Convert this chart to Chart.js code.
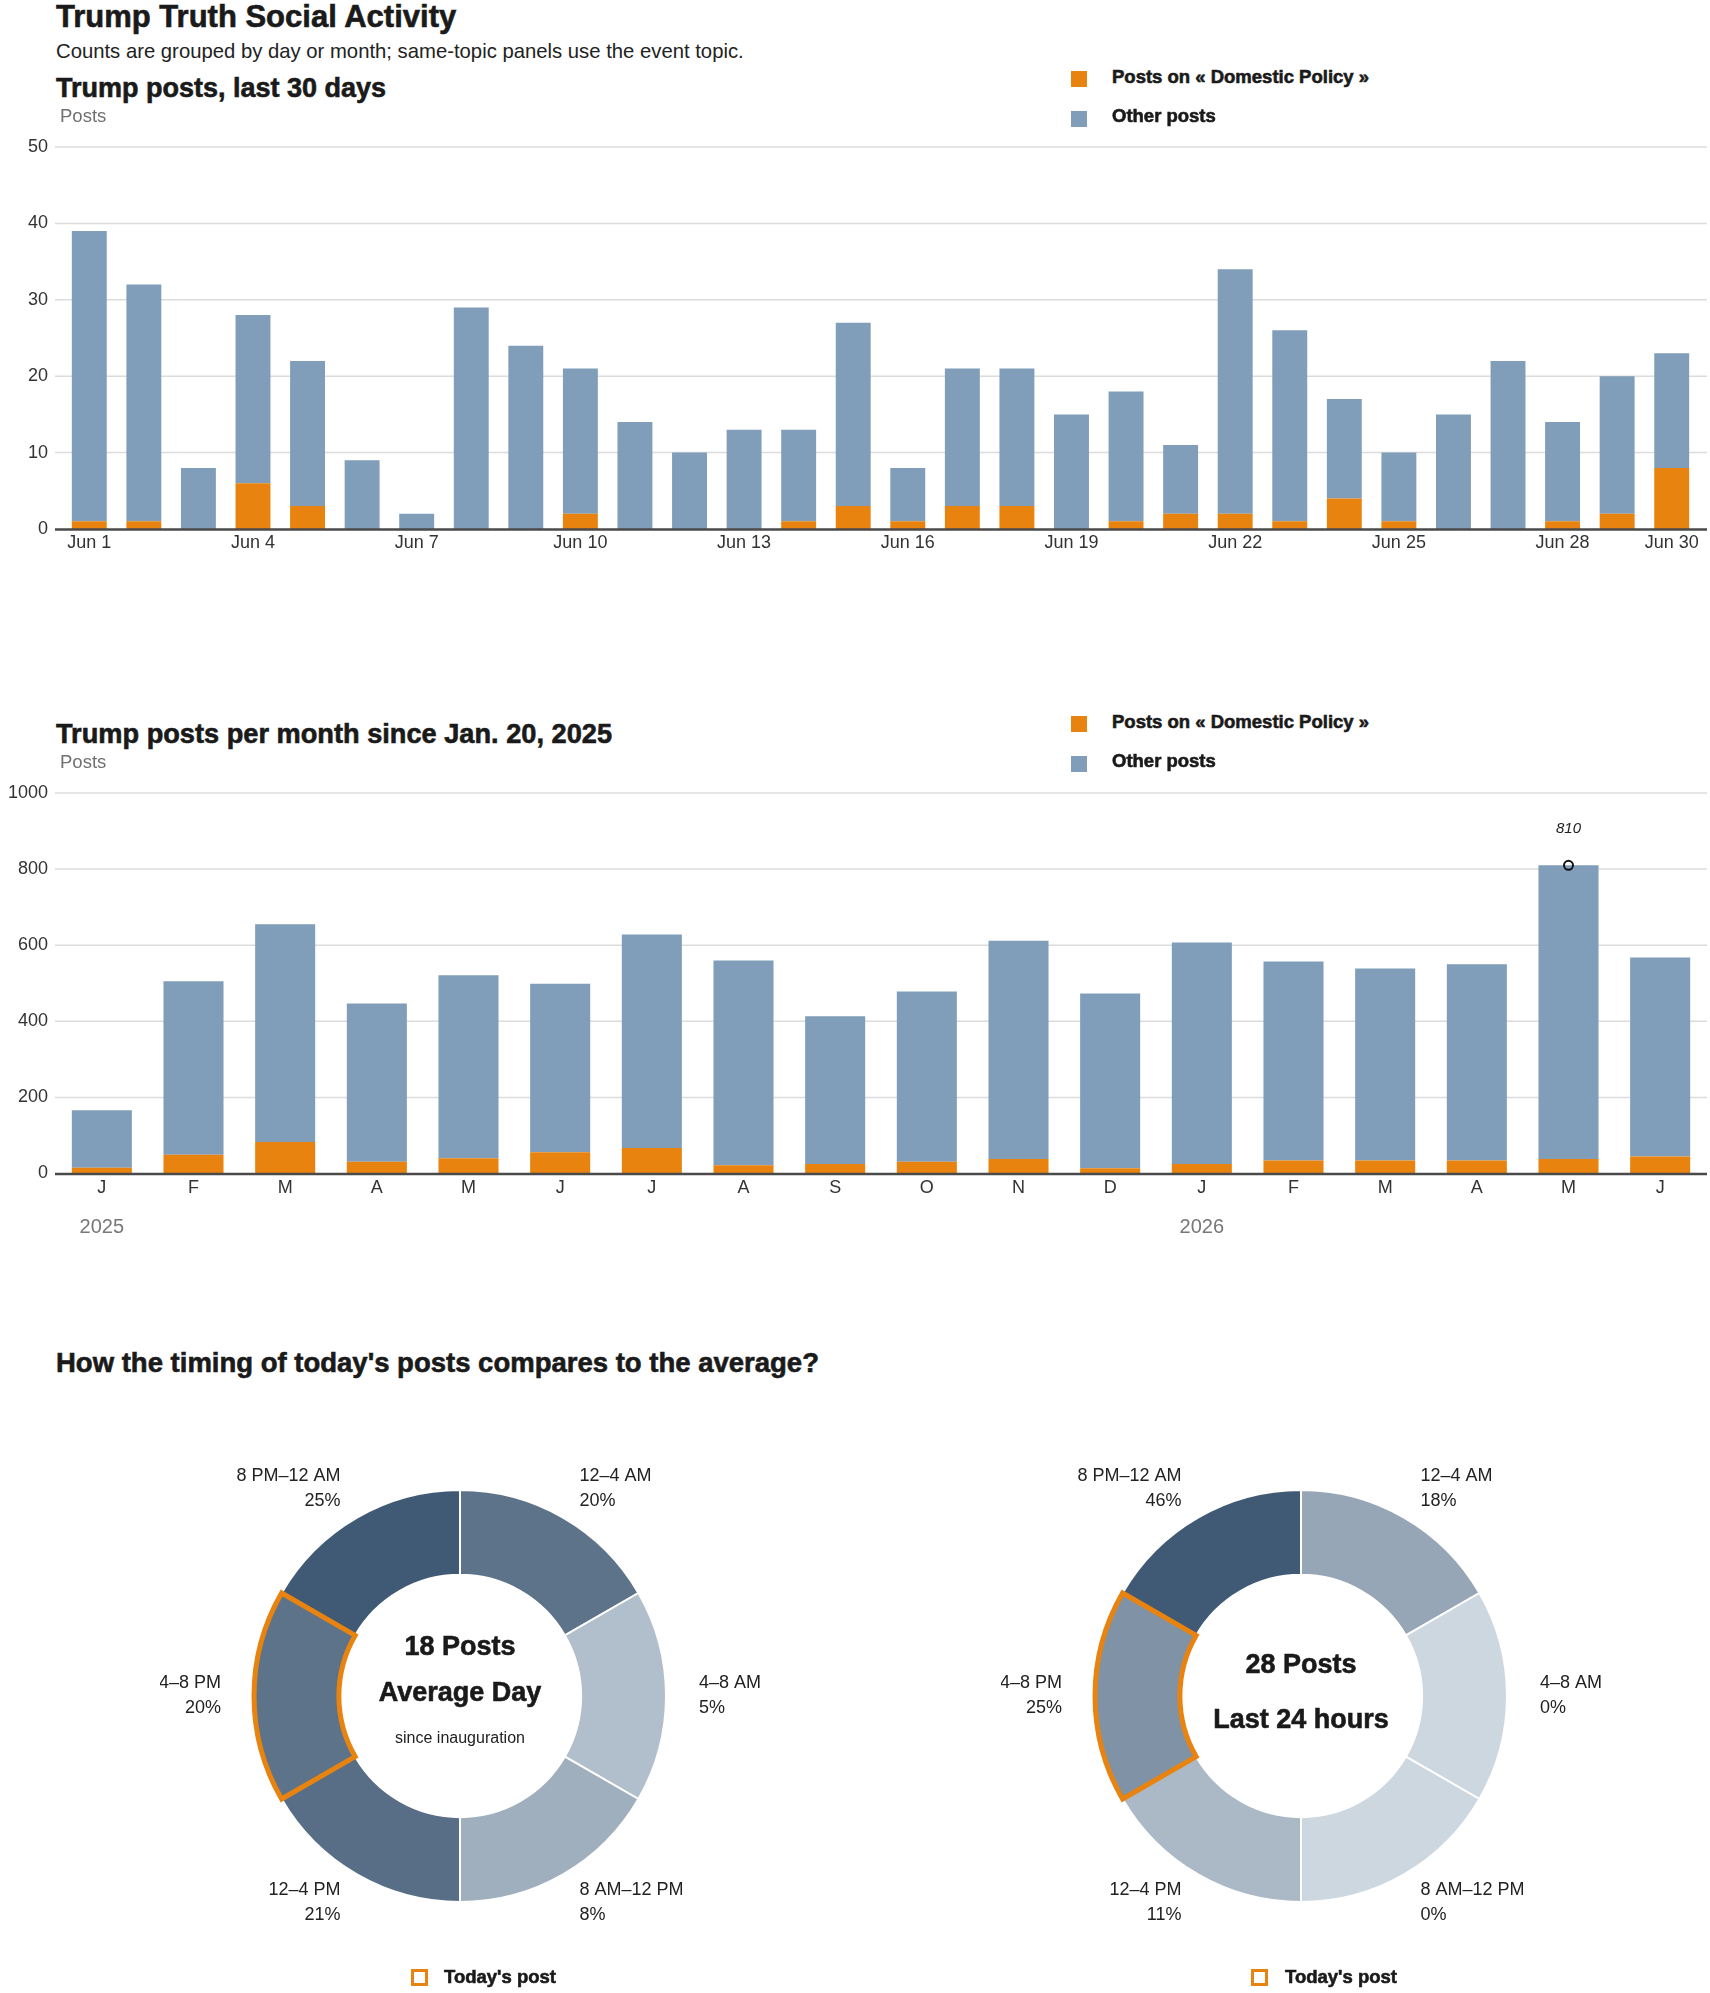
<!DOCTYPE html>
<html>
<head>
<meta charset="utf-8">
<script src="https://cdn.jsdelivr.net/npm/chart.js@4.4.1/dist/chart.umd.min.js"></script>
<style>
  body { margin: 0; background: #fff; }
  #page { position: relative; width: 1710px; height: 1993px; overflow: hidden;
          font-family: 'Liberation Sans', Arial, sans-serif; color: #222; }
  .t { position: absolute; white-space: nowrap; z-index: 2; }
  .heavy { font-weight: 700; color: #1a1a1a; -webkit-text-stroke: 0.6px #1a1a1a; }
  .sw { position: absolute; width: 16px; height: 16px; z-index: 2; }
  .ring { position: absolute; width: 11px; height: 11px; border: 3px solid #e8830f; z-index: 2; }
  canvas { position: absolute; z-index: 1; }
</style>
</head>
<body>
<div id="page">
  <div class="t heavy" style="left:56px; top:0px; line-height:34px; font-size:31px;">Trump Truth Social Activity</div>
  <div class="t" style="left:56px; top:38px; line-height:26px; font-size:20.3px;">Counts are grouped by day or month; same-topic panels use the event topic.</div>

  <div class="t heavy" style="left:56px; top:73px; line-height:30px; font-size:27px;">Trump posts, last 30 days</div>
  <div class="t" style="left:60px; top:105px; line-height:22px; font-size:18.5px; color:#707070;">Posts</div>
  <div class="sw" style="left:1071px; top:71px; background:#e8830f;"></div>
  <div class="t heavy" style="left:1112px; top:66px; line-height:22px; font-size:18.5px;">Posts on « Domestic Policy »</div>
  <div class="sw" style="left:1071px; top:111px; background:#809db9;"></div>
  <div class="t heavy" style="left:1112px; top:105px; line-height:22px; font-size:18.5px;">Other posts</div>
  <canvas id="daily" width="1710" height="460" style="left:0; top:110px;"></canvas>

  <div class="t heavy" style="left:56px; top:719px; line-height:30px; font-size:27.2px;">Trump posts per month since Jan. 20, 2025</div>
  <div class="t" style="left:60px; top:751px; line-height:22px; font-size:18.5px; color:#707070;">Posts</div>
  <div class="sw" style="left:1071px; top:716px; background:#e8830f;"></div>
  <div class="t heavy" style="left:1112px; top:711px; line-height:22px; font-size:18.5px;">Posts on « Domestic Policy »</div>
  <div class="sw" style="left:1071px; top:756px; background:#809db9;"></div>
  <div class="t heavy" style="left:1112px; top:750px; line-height:22px; font-size:18.5px;">Other posts</div>
  <canvas id="monthly" width="1710" height="480" style="left:0; top:770px;"></canvas>

  <div class="t heavy" style="left:56px; top:1348px; line-height:30px; font-size:27.5px;">How the timing of today's posts compares to the average?</div>

  <canvas id="avgDonut" width="600" height="560" style="left:160px; top:1416px;"></canvas>
  <div class="t heavy" style="left:260px; width:400px; text-align:center; top:1630px; line-height:32px; font-size:27px;">18 Posts</div>
  <div class="t heavy" style="left:260px; width:400px; text-align:center; top:1676px; line-height:32px; font-size:27px;">Average Day</div>
  <div class="t" style="left:260px; width:400px; text-align:center; top:1728px; line-height:20px; font-size:16px;">since inauguration</div>
  <div class="ring" style="left:411px; top:1969px;"></div>
  <div class="t heavy" style="left:444px; top:1966px; line-height:22px; font-size:18.5px;">Today's post</div>

  <canvas id="todayDonut" width="600" height="560" style="left:1001px; top:1416px;"></canvas>
  <div class="t heavy" style="left:1101px; width:400px; text-align:center; top:1648px; line-height:32px; font-size:27px;">28 Posts</div>
  <div class="t heavy" style="left:1101px; width:400px; text-align:center; top:1703px; line-height:32px; font-size:27px;">Last 24 hours</div>
  <div class="ring" style="left:1251px; top:1969px;"></div>
  <div class="t heavy" style="left:1285px; top:1966px; line-height:22px; font-size:18.5px;">Today's post</div>
</div>

<script>
// ---- data ----
const days = ['Jun 1', 'Jun 2', 'Jun 3', 'Jun 4', 'Jun 5', 'Jun 6', 'Jun 7', 'Jun 8', 'Jun 9', 'Jun 10',
  'Jun 11', 'Jun 12', 'Jun 13', 'Jun 14', 'Jun 15', 'Jun 16', 'Jun 17', 'Jun 18', 'Jun 19', 'Jun 20',
  'Jun 21', 'Jun 22', 'Jun 23', 'Jun 24', 'Jun 25', 'Jun 26', 'Jun 27', 'Jun 28', 'Jun 29', 'Jun 30'];
const shownDayTicks = ['Jun 1', 'Jun 4', 'Jun 7', 'Jun 10', 'Jun 13', 'Jun 16', 'Jun 19', 'Jun 22', 'Jun 25', 'Jun 28', 'Jun 30'];
const dailyDomestic = [1, 1, 0, 6, 3, 0, 0, 0, 0, 2, 0, 0, 0, 1, 3, 1, 3, 3, 0, 1, 2, 2, 1, 4, 1, 0, 0, 1, 2, 8];
const dailyOther = [38, 31, 8, 22, 19, 9, 2, 29, 24, 19, 14, 10, 13, 12, 24, 7, 18, 18, 15, 17, 9, 32, 25, 13, 9, 15, 22, 13, 18, 15];

const months = ['J', 'F', 'M', 'A', 'M', 'J', 'J', 'A', 'S', 'O', 'N', 'D', 'J', 'F', 'M', 'A', 'M', 'J'];
const yearTickIndex = [0, 12];
const yearTickText = ['2025', '2026'];
const monthlyDomestic = [15, 49, 83, 31, 40, 56, 67, 22, 25, 31, 38, 14, 25, 34, 34, 34, 38, 45];
const monthlyOther = [151, 456, 572, 416, 481, 443, 561, 538, 388, 447, 574, 459, 582, 523, 505, 516, 772, 523];

const timeSlots = ['12–4 AM', '4–8 AM', '8 AM–12 PM', '12–4 PM', '4–8 PM', '8 PM–12 AM'];
const sliceWeights = [1, 1, 1, 1, 1, 1];
const averageShare = [20, 5, 8, 21, 20, 25];
const todayShare = [18, 0, 0, 11, 25, 46];
const todaySlot = 4;

// ---- look ----
const ORANGE = '#e8830f';
const BLUE = '#809db9';
const TEXT = '#222';
const FONT = "'Liberation Sans', Arial, sans-serif";

Chart.defaults.font.family = FONT;
Chart.defaults.color = '#333';
Chart.defaults.animation = false;

// gridlines and baseline a bit wider than the bar area
const wideGrid = {
  id: 'wideGrid',
  beforeDatasetsDraw(chart, args, opts) {
    const y = chart.scales.y, ctx = chart.ctx;
    ctx.save();
    ctx.strokeStyle = '#dcdcdc';
    ctx.lineWidth = 1.5;
    y.ticks.forEach(t => {
      if (t.value === 0) return;
      const py = y.getPixelForValue(t.value);
      ctx.beginPath(); ctx.moveTo(opts.left, py); ctx.lineTo(opts.right, py); ctx.stroke();
    });
    ctx.restore();
  },
  afterDatasetsDraw(chart, args, opts) {
    const y = chart.scales.y, ctx = chart.ctx;
    const py = y.getPixelForValue(0) + 0.5;
    ctx.save();
    ctx.strokeStyle = '#4a4a4a';
    ctx.lineWidth = 2.5;
    ctx.beginPath(); ctx.moveTo(opts.left, py); ctx.lineTo(opts.right, py); ctx.stroke();
    ctx.restore();
  }
};

// circle + value above the busiest month, and year labels
const peakMark = {
  id: 'peakMark',
  afterDatasetsDraw(chart) {
    const {ctx, scales: {x, y}} = chart;
    const totals = monthlyDomestic.map((d, i) => d + monthlyOther[i]);
    const peak = totals.indexOf(Math.max(...totals));
    const px = x.getPixelForValue(peak), py = y.getPixelForValue(totals[peak]);
    ctx.save();
    ctx.strokeStyle = '#111';
    ctx.lineWidth = 2;
    ctx.beginPath(); ctx.arc(px, py, 4.5, 0, Math.PI * 2); ctx.stroke();
    ctx.fillStyle = TEXT;
    ctx.font = 'italic 15px ' + FONT;
    ctx.textAlign = 'center';
    ctx.textBaseline = 'middle';
    ctx.fillText(String(totals[peak]), px, py - 36);

    ctx.fillStyle = '#777';
    ctx.font = '20px ' + FONT;
    yearTickIndex.forEach((idx, k) => {
      ctx.fillText(yearTickText[k], x.getPixelForValue(idx), chart.chartArea.bottom + 53.5);
    });
    ctx.restore();
  }
};

function barChart(id, labels, domestic, other, cfg) {
  return new Chart(document.getElementById(id), {
    type: 'bar',
    data: {
      labels: labels,
      datasets: [
        { label: 'Posts on « Domestic Policy »', data: domestic, backgroundColor: ORANGE },
        { label: 'Other posts', data: other, backgroundColor: BLUE }
      ]
    },
    plugins: cfg.plugins,
    options: {
      responsive: false,
      layout: { padding: cfg.padding },
      datasets: { bar: { barPercentage: cfg.barPct, categoryPercentage: 1 } },
      plugins: {
        legend: { display: false },
        tooltip: { enabled: false },
        wideGrid: { left: 55, right: 1707 }
      },
      scales: {
        x: {
          stacked: true,
          grid: { display: false, drawTicks: false },
          border: { display: false },
          afterFit: s => { s.height = 30; },
          ticks: {
            autoSkip: false, maxRotation: 0, padding: cfg.xPad,
            font: { size: 18 }, color: '#333',
            callback: cfg.xTick
          }
        },
        y: {
          stacked: true,
          min: 0, max: cfg.max,
          grid: { display: false, drawTicks: false },
          border: { display: false },
          afterFit: s => { s.width = cfg.yWidth; },
          ticks: {
            stepSize: cfg.step, padding: cfg.yPad, font: { size: 18 }, color: '#333',
            callback: v => String(v)
          }
        }
      }
    }
  });
}

barChart('daily', days, dailyDomestic, dailyOther, {
  padding: { top: 37, right: 11, bottom: 11, left: 0 },
  barPct: 0.64, max: 50, step: 10, yWidth: 62, yPad: 14, xPad: 3,
  xTick: (v, i) => shownDayTicks.includes(days[i]) ? days[i] : '',
  plugins: [wideGrid]
});

barChart('monthly', months, monthlyDomestic, monthlyOther, {
  padding: { top: 23, right: 4, bottom: 46.5, left: 0 },
  barPct: 0.655, max: 1000, step: 200, yWidth: 56, yPad: 8, xPad: 4,
  xTick: (v, i) => months[i],
  plugins: [wideGrid, peakMark]
});

// shade each slice by its share relative to the largest share
function shade(share, maxShare) {
  const light = [205, 215, 224], dark = [64, 90, 117];
  const t = maxShare ? share / maxShare : 0;
  const c = light.map((l, k) => Math.round(l + (dark[k] - l) * t));
  return `rgb(${c[0]},${c[1]},${c[2]})`;
}

const donutDeco = {
  id: 'donutDeco',
  afterDatasetsDraw(chart, args, opts) {
    const ctx = chart.ctx;
    const arcs = chart.getDatasetMeta(0).data;
    const props = ['x', 'y', 'startAngle', 'endAngle', 'innerRadius', 'outerRadius'];
    ctx.save();
    const h = arcs[opts.highlight].getProps(props, true);
    ctx.beginPath();
    ctx.arc(h.x, h.y, h.outerRadius, h.startAngle, h.endAngle);
    ctx.arc(h.x, h.y, h.innerRadius, h.endAngle, h.startAngle, true);
    ctx.closePath();
    ctx.strokeStyle = ORANGE;
    ctx.lineWidth = 5;
    ctx.lineJoin = 'miter';
    ctx.stroke();

    ctx.fillStyle = TEXT;
    ctx.font = '18px ' + FONT;
    ctx.textBaseline = 'middle';
    arcs.forEach((a, i) => {
      const p = a.getProps(props, true);
      const mid = (p.startAngle + p.endAngle) / 2;
      const r = p.outerRadius + 33;
      const c = Math.cos(mid);
      const lx = p.x + c * r, ly = p.y + Math.sin(mid) * r;
      ctx.textAlign = c > 0.01 ? 'left' : (c < -0.01 ? 'right' : 'center');
      ctx.fillText(timeSlots[i], lx, ly - 12.5);
      ctx.fillText(opts.shares[i] + '%', lx, ly + 12.5);
    });
    ctx.restore();
  }
};

function donut(id, shares) {
  const maxShare = Math.max(...shares);
  return new Chart(document.getElementById(id), {
    type: 'doughnut',
    data: {
      labels: timeSlots,
      datasets: [{
        data: sliceWeights,
        backgroundColor: shares.map(s => shade(s, maxShare)),
        borderColor: '#fff',
        borderWidth: 2
      }]
    },
    plugins: [donutDeco],
    options: {
      responsive: false,
      radius: 206,
      cutout: '58.8%',
      plugins: {
        legend: { display: false },
        tooltip: { enabled: false },
        donutDeco: { highlight: todaySlot, shares: shares }
      }
    }
  });
}

donut('avgDonut', averageShare);
donut('todayDonut', todayShare);
</script>
</body>
</html>
